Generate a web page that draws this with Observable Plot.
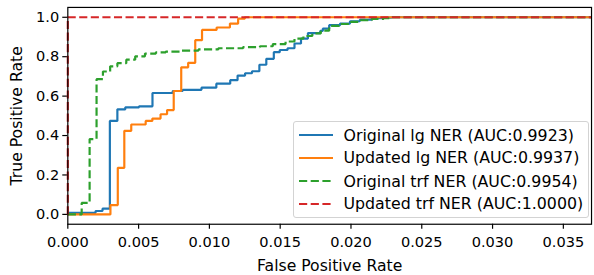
<!DOCTYPE html>
<html>
<head>
<meta charset="utf-8">
<script src="https://cdn.jsdelivr.net/npm/d3@7"></script>
<script src="https://cdn.jsdelivr.net/npm/@observablehq/plot@0.6"></script>
<style>
  html, body { margin: 0; padding: 0; background: #fff; overflow: hidden; }
  #wrap { position: relative; width: 594px; height: 275px; overflow: hidden; font-family: "DejaVu Sans", sans-serif; }
  #legend { position: absolute; left: 292.5px; top: 121px; width: 296px; height: 97px; box-sizing: border-box;
            border: 1px solid #d3d3d3; border-radius: 3px; background: rgba(255,255,255,0.8); }
  .row { position: absolute; left: 0; height: 20px; display: flex; align-items: center; font-size: 15.8px; color: #000; white-space: nowrap; }
  .row svg { margin-left: 5px; margin-right: 11px; }
</style>
</head>
<body>
<div id="wrap"></div>
<script>
// ---- data ----
const seriesNames = [
  "Original lg NER (AUC:0.9923)",
  "Updated lg NER (AUC:0.9937)",
  "Original trf NER (AUC:0.9954)",
  "Updated trf NER (AUC:1.0000)"
];
const seriesColors = ["#1f77b4", "#ff7f0e", "#2ca02c", "#d62728"];
const seriesDashed = [false, false, true, true];

const origLgFpr = [0, 0.00196, 0.00245, 0.00297, 0.00350, 0.00406, 0.00503, 0.00598, 0.00741, 0.00811, 0.00944, 0.01049, 0.01147, 0.01199, 0.01252, 0.01301, 0.01353, 0.01402, 0.01455, 0.01497, 0.01552, 0.01601, 0.01647, 0.01696, 0.01783, 0.01801, 0.01846, 0.01923, 0.01993, 0.02063, 0.02147, 0.02231, 0.02287, 0.037];
const origLgTpr = [0.008, 0.017, 0.029, 0.474, 0.533, 0.543, 0.548, 0.616, 0.626, 0.632, 0.643, 0.663, 0.681, 0.704, 0.716, 0.726, 0.759, 0.789, 0.823, 0.834, 0.843, 0.867, 0.892, 0.920, 0.931, 0.942, 0.960, 0.968, 0.980, 0.988, 0.995, 0.998, 1.0, 1.0];

const updLgFpr = [0, 0.00301, 0.00353, 0.00399, 0.00448, 0.00550, 0.00597, 0.00655, 0.00701, 0.00748, 0.00801, 0.00850, 0.00900, 0.00948, 0.01051, 0.01145, 0.01203, 0.01250, 0.037];
const updLgTpr = [0, 0.047, 0.236, 0.424, 0.456, 0.474, 0.486, 0.508, 0.529, 0.626, 0.746, 0.769, 0.884, 0.936, 0.948, 0.968, 0.993, 1.0, 1.0];

const origTrfFpr = [0, 0.00098, 0.00154, 0.00203, 0.00248, 0.00299, 0.00350, 0.00413, 0.00476, 0.00545, 0.00622, 0.00692, 0.00804, 0.00923, 0.01063, 0.01238, 0.01357, 0.01448, 0.01538, 0.01601, 0.01664, 0.01727, 0.01787, 0.01846, 0.01916, 0.02000, 0.02070, 0.02147, 0.02231, 0.02287, 0.037];
const origTrfTpr = [0, 0.058, 0.382, 0.686, 0.725, 0.751, 0.767, 0.785, 0.802, 0.816, 0.822, 0.826, 0.831, 0.837, 0.843, 0.849, 0.853, 0.864, 0.877, 0.892, 0.905, 0.918, 0.932, 0.956, 0.966, 0.977, 0.985, 0.992, 0.996, 1.0, 1.0];

const updTrfFpr = [0, 0, 0.037];
const updTrfTpr = [0, 1.0, 1.0];

const xTicks = [0, 0.005, 0.010, 0.015, 0.020, 0.025, 0.030, 0.035];
const yTicks = [0, 0.2, 0.4, 0.6, 0.8, 1.0];
const xLabel = "False Positive Rate";
const yLabel = "True Positive Rate";

// ---- build ----
const fprs = [origLgFpr, updLgFpr, origTrfFpr, updTrfFpr];
const tprs = [origLgTpr, updLgTpr, origTrfTpr, updTrfTpr];
const series = fprs.map((f, i) => f.map((x, j) => ({x, y: tprs[i][j], s: seriesNames[i]})));

const lineMarks = series.map((d, i) => Plot.line(d, {
  x: "x", y: "y", curve: "step-after",
  stroke: seriesColors[i], strokeWidth: 2.2,
  strokeDasharray: seriesDashed[i] ? "8.2,3.5" : null,
  strokeLinecap: "butt", strokeLinejoin: "miter"
}));

const chart = Plot.plot({
  width: 600, height: 275,
  marginLeft: 68, marginRight: 3, marginTop: 7, marginBottom: 49,
  style: { fontFamily: "DejaVu Sans, sans-serif", fontSize: "14.7px", color: "#000", background: "#fff", overflow: "visible" },
  x: { domain: [0, 0.03699] },
  y: { domain: [-0.05, 1.05] },
  marks: [
    Plot.axisX({ ticks: xTicks, tickFormat: d3.format(".3f"), tickSize: 5.1, tickPadding: 7, strokeWidth: 1.2,
                 label: xLabel, labelAnchor: "center", labelOffset: 47, labelArrow: "none" }),
    Plot.axisY({ ticks: yTicks, tickFormat: d3.format(".1f"), tickSize: 5.1, tickPadding: 3.6, strokeWidth: 1.2,
                 label: yLabel, labelAnchor: "center", labelOffset: 57, labelArrow: "none" }),
    ...lineMarks,
    Plot.frame({ stroke: "#000", strokeWidth: 1.2 })
  ]
});

// axis titles are a little larger than the tick labels in the reference
d3.select(chart).selectAll('g[aria-label="x-axis label"] text, g[aria-label="y-axis label"] text')
  .style("font-size", "15.8px");

const wrap = document.getElementById("wrap");
wrap.appendChild(chart);

// legend overlay
const legend = document.createElement("div");
legend.id = "legend";
const rowCenters = [13, 35.7, 59, 81.7];
seriesNames.forEach((name, i) => {
  const row = document.createElement("div");
  row.className = "row";
  row.style.top = (rowCenters[i] - 10) + "px";
  const dash = seriesDashed[i] ? 'stroke-dasharray="8.2,3.5"' : "";
  row.innerHTML = `<svg width="34" height="6"><line x1="0" y1="3" x2="34" y2="3" stroke="${seriesColors[i]}" stroke-width="2.2" ${dash}/></svg><span>${name}</span>`;
  legend.appendChild(row);
});
wrap.appendChild(legend);
</script>
</body>
</html>
